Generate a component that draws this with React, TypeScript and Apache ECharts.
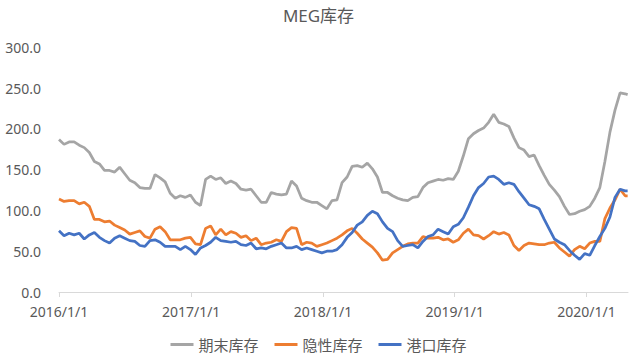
import React, { useEffect, useRef } from "react";
import * as echarts from "echarts";

const START = Date.UTC(2016, 0, 1);
const DAY = 86400000;

// biweekly observation dates (plus final week)
const dates: string[] = [
  ...Array.from({ length: 113 }, (_, i) => new Date(START + i * 14 * DAY).toISOString().slice(0, 10)),
  "2020-04-24",
];

const yearTickDates = ["2016-01-01", "2017-01-01", "2018-01-01", "2019-01-01", "2020-01-01"];
const yearTickLabels = ["2016/1/1", "2017/1/1", "2018/1/1", "2019/1/1", "2020/1/1"];
const yTicks = [0, 50, 100, 150, 200, 250, 300];

const seriesNames = ["期末库存", "隐性库存", "港口库存"];
const seriesColors = ["#A5A5A5", "#ED7D31", "#4472C4"];

const endStock = [
  187, 181, 184, 184, 180, 177, 171, 160, 157, 149,
  149, 147, 153, 145, 137, 134, 128, 127, 127, 144,
  140, 135, 121, 115, 118, 116, 119, 110, 106, 138,
  142, 138, 140, 133, 136, 133, 126, 125, 126, 118,
  110, 110, 122, 120, 119, 120, 136, 130, 115, 112,
  110, 110, 106, 102, 112, 113, 134, 141, 154, 155,
  153, 158, 151, 141, 122, 122, 118, 115, 113, 112,
  116, 117, 128, 134, 136, 138, 137, 139, 138, 148,
  167, 188, 194, 198, 201, 208, 218, 208, 206, 203,
  189, 177, 174, 166, 168, 155, 143, 132, 125, 117,
  105, 95, 96, 99, 101, 105, 115, 128, 160, 196,
  223, 244, 243, 242,
];

const hiddenStock = [
  114, 111, 112, 112, 108, 110, 105, 89, 89, 86,
  87, 82, 79, 76, 71, 73, 75, 68, 66, 77,
  80, 74, 64,
  64, 64, 66, 67, 59, 58, 78, 81, 70, 77,
  70, 74, 72, 67, 69, 63, 66, 58, 60, 61,
  64, 62,
  74, 79, 78, 58, 61, 60, 56, 58, 60, 63,
  66, 70, 75, 78, 72, 65, 60, 55, 48, 39,
  40, 48, 52,
  56, 59, 60, 60, 68, 66, 66, 67, 64, 65,
  61, 64, 72, 77, 70, 69, 65, 69, 74, 71,
  73, 70, 57,
  51, 57, 60, 59, 58, 58, 60, 61, 54, 49,
  44, 52, 56, 53, 60, 62, 62, 90, 103, 113,
  126, 118, 118,
];

const portStock = [
  75, 69, 72, 70, 72, 65, 70, 73, 67, 63,
  60, 66, 69, 66, 63, 62, 57, 56, 63, 64,
  61, 56, 56,
  56, 52, 56, 52, 46, 54, 57, 61, 67, 63,
  62, 61, 62, 58, 57, 60, 53, 54, 53, 56,
  58, 60, 54,
  54, 56, 52, 54, 52, 50, 48, 50, 50, 52,
  58, 67, 73, 82, 86, 94, 99, 96, 86, 78,
  74, 63,
  56, 57, 58, 54, 62, 68, 70, 77, 74, 71,
  80, 83, 91, 104, 118, 128, 133, 141, 142, 138,
  132, 134, 132,
  123, 115, 107, 105, 102, 89, 77, 65, 61, 58,
  51, 45, 40, 47, 45, 57, 68, 78, 92, 116,
  126, 124, 124,
];

const dayOf = (s: string) => Math.round((Date.parse(s) - START) / DAY);

export default function App() {
  const ref = useRef<HTMLDivElement>(null);

  useEffect(() => {
    document.body.style.margin = "0";
    if (!ref.current) return;
    const chart = echarts.init(ref.current, undefined, { renderer: "svg" });
    const tickDays = yearTickDates.map(dayOf);
    const values = [endStock, hiddenStock, portStock];
    const font = '"Noto Sans", "Noto Sans CJK SC", sans-serif';

    chart.setOption({
      animation: false,
      backgroundColor: "#ffffff",
      textStyle: { fontFamily: font },
      title: {
        text: "MEG库存",
        left: "center",
        top: 2,
        textStyle: { fontSize: 17, fontWeight: "normal", color: "#595959", fontFamily: font },
      },
      legend: {
        data: seriesNames,
        top: 332,
        left: "center",
        icon: "rect",
        itemWidth: 23,
        itemHeight: 3,
        itemGap: 16,
        textStyle: { fontSize: 15, color: "#595959", fontFamily: font },
      },
      grid: { left: 59, right: 9, top: 47.3, bottom: 66, containLabel: false },
      xAxis: {
        type: "value",
        min: 0,
        max: 1576,
        axisLine: { show: true, lineStyle: { color: "#D9D9D9", width: 1 } },
        axisTick: { show: true, customValues: tickDays, length: 5, lineStyle: { color: "#D9D9D9" } },
        axisLabel: {
          customValues: tickDays,
          formatter: (v: number) => {
            const i = tickDays.indexOf(Math.round(v));
            return i >= 0 ? yearTickLabels[i] : "";
          },
          color: "#595959",
          fontSize: 14,
          margin: 12,
          fontFamily: font,
        },
        splitLine: { show: false },
      },
      yAxis: {
        type: "value",
        min: yTicks[0],
        max: yTicks[yTicks.length - 1],
        interval: 50,
        axisLine: { show: false },
        axisTick: { show: false },
        splitLine: { show: false },
        axisLabel: {
          formatter: (v: number) => v.toFixed(1),
          color: "#595959",
          fontSize: 14,
          margin: 18,
          fontFamily: font,
        },
      },
      series: seriesNames.map((name, si) => ({
        name,
        type: "line",
        symbol: "none",
        showSymbol: false,
        color: seriesColors[si],
        lineStyle: { color: seriesColors[si], width: 2.75 },
        data: dates.map((d, i) => [dayOf(d), values[si][i]]),
      })),
    });

    return () => chart.dispose();
  }, []);

  return <div ref={ref} style={{ width: 637, height: 358 }} />;
}
